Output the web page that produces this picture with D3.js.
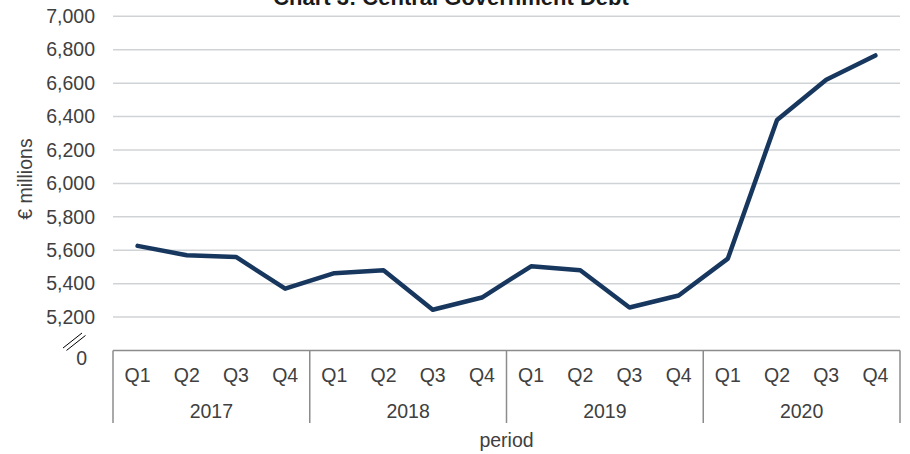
<!DOCTYPE html>
<html>
<head>
<meta charset="utf-8">
<script src="https://cdn.jsdelivr.net/npm/d3@7"></script>
<style>
  body { margin: 0; background: #fff; }
  text { font-family: "Liberation Sans", Arial, sans-serif; fill: #404040; }
</style>
</head>
<body>
<div id="vis"></div>
<script>
const WIDTH = 910;
const HEIGHT = 454;
const FONT = "19.5px";

// data
const years = ["2017", "2018", "2019", "2020"];
const quarters = ["Q1", "Q2", "Q3", "Q4"];
const debt = [
  5626, 5570, 5560, 5370,
  5463, 5480, 5244, 5317,
  5504, 5480, 5257, 5329,
  5550, 6380, 6620, 6766
];
const yTicks = [5200, 5400, 5600, 5800, 6000, 6200, 6400, 6600, 6800, 7000];

const periods = [];
years.forEach((y) => quarters.forEach((q) => periods.push({ year: y, q: q })));
const points = periods.map((p, i) => ({ key: p.year + p.q, year: p.year, q: p.q, v: debt[i] }));

const PLOT_LEFT = 113;
const PLOT_RIGHT = 900;
const AXIS_TOP = 350.5;
const AXIS_BOTTOM = 423;

const svg = d3.select("#vis").append("svg")
  .attr("width", WIDTH)
  .attr("height", HEIGHT);

const x = d3.scaleBand()
  .domain(points.map((d) => d.key))
  .range([PLOT_LEFT, PLOT_RIGHT])
  .padding(0);

const y = d3.scaleLinear()
  .domain([5000, 7000])
  .range([AXIS_TOP, 16.3]);

const cx = (d) => x(d.key) + x.bandwidth() / 2;

// title (partly cut off at top, as in the source)
svg.append("text")
  .attr("x", 451)
  .attr("y", 5)
  .attr("text-anchor", "middle")
  .attr("font-size", "22px")
  .attr("font-weight", "bold")
  .style("fill", "#1a1a1a")
  .text("Chart 3: Central Government Debt");

// gridlines
svg.append("g")
  .selectAll("line")
  .data(yTicks)
  .join("line")
  .attr("x1", PLOT_LEFT)
  .attr("x2", PLOT_RIGHT)
  .attr("y1", (d) => y(d))
  .attr("y2", (d) => y(d))
  .attr("stroke", "#d0d3d6")
  .attr("stroke-width", 1.5);

// y axis labels
const yAxis = svg.append("g")
  .attr("transform", "translate(" + (PLOT_LEFT - 18) + ",0)")
  .call(d3.axisLeft(y).tickValues(yTicks).tickSize(0).tickFormat(d3.format(",")));
yAxis.select(".domain").remove();
yAxis.selectAll("text")
  .attr("x", 0)
  .attr("font-size", FONT)
  .attr("font-family", "Liberation Sans, Arial, sans-serif")
  .style("fill", "#404040");

// fake zero label and axis break
svg.append("text")
  .attr("x", 87)
  .attr("y", 365)
  .attr("text-anchor", "end")
  .attr("font-size", FONT)
  .text("0");

svg.append("g")
  .selectAll("line")
  .data([0, 3.5])
  .join("line")
  .attr("x1", (d) => 63 + d)
  .attr("y1", (d) => 348 + d * 0.7)
  .attr("x2", (d) => 82 + d)
  .attr("y2", (d) => 333 + d * 0.7)
  .attr("stroke", "#000")
  .attr("stroke-width", 1);

// y axis title
svg.append("text")
  .attr("transform", "translate(32,179) rotate(-90)")
  .attr("text-anchor", "middle")
  .attr("font-size", FONT)
  .text("€ millions");

// category axis box
const axisG = svg.append("g");
axisG.append("line")
  .attr("x1", PLOT_LEFT)
  .attr("x2", PLOT_RIGHT)
  .attr("y1", AXIS_TOP)
  .attr("y2", AXIS_TOP)
  .attr("stroke", "#8c8c8c")
  .attr("stroke-width", 1.5);

const yearBounds = years.map((yr) => x(yr + "Q1")).concat([PLOT_RIGHT]);
axisG.selectAll("line.sep")
  .data(yearBounds)
  .join("line")
  .attr("class", "sep")
  .attr("x1", (d) => d)
  .attr("x2", (d) => d)
  .attr("y1", AXIS_TOP)
  .attr("y2", AXIS_BOTTOM)
  .attr("stroke", "#8c8c8c")
  .attr("stroke-width", 1.5);

axisG.selectAll("text.q")
  .data(points)
  .join("text")
  .attr("class", "q")
  .attr("x", cx)
  .attr("y", 382)
  .attr("text-anchor", "middle")
  .attr("font-size", FONT)
  .text((d) => d.q);

axisG.selectAll("text.yr")
  .data(years)
  .join("text")
  .attr("class", "yr")
  .attr("x", (d) => (x(d + "Q1") + x(d + "Q4") + x.bandwidth()) / 2)
  .attr("y", 418)
  .attr("text-anchor", "middle")
  .attr("font-size", FONT)
  .text((d) => d);

svg.append("text")
  .attr("x", (PLOT_LEFT + PLOT_RIGHT) / 2)
  .attr("y", 447)
  .attr("text-anchor", "middle")
  .attr("font-size", FONT)
  .text("period");

// debt line
svg.append("path")
  .datum(points)
  .attr("fill", "none")
  .attr("stroke", "#17375e")
  .attr("stroke-width", 4.5)
  .attr("stroke-linejoin", "round")
  .attr("stroke-linecap", "round")
  .attr("d", d3.line().x(cx).y((d) => y(d.v)));
</script>
</body>
</html>
